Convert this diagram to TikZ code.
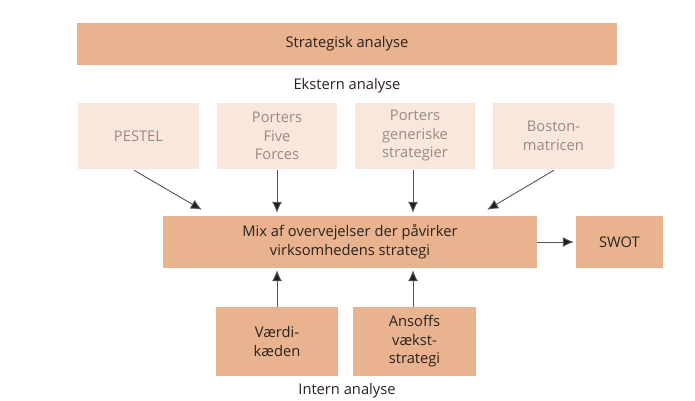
\documentclass[tikz,border=0pt]{standalone}
\usepackage{fontspec}
\setmainfont{Open Sans}
\usetikzlibrary{arrows.meta,calc}
\definecolor{darkfill}{HTML}{E8B38E}
\definecolor{lightfill}{HTML}{FAE7DB}
\definecolor{lighttext}{HTML}{948C88}
\definecolor{darktext}{HTML}{2A2220}
\definecolor{arrowcol}{HTML}{1E1E1E}
\tikzset{
  box/.style={draw=none, inner sep=0pt, align=center, font=\fontsize{14.7}{18.5}\selectfont},
  darkbox/.style={box, fill=darkfill, text=darktext},
  lightbox/.style={box, fill=lightfill, text=lighttext},
  lbl/.style={inner sep=0pt, text=darktext, font=\fontsize{14.7}{18.5}\selectfont},
  arr/.style={draw=arrowcol!75, line width=0.9pt, -{Latex[length=11pt,width=10pt,fill=arrowcol]}}
}
\begin{document}
\begin{tikzpicture}[x=1pt,y=-1pt]
\useasboundingbox (0,0) rectangle (695,400);
% top bar
\node[darkbox, minimum width=540pt, minimum height=42pt] (top) at (347,44) {Strategisk analyse};
\node[lbl] (ekst) at (347,86) {Ekstern analyse};
% light boxes
\node[lightbox, minimum width=121pt, minimum height=66pt] (pestel) at (138.5,136) {PESTEL};
\node[lightbox, minimum width=120pt, minimum height=66pt] (five) at (277,136) {Porters\\Five\\Forces};
\node[lightbox, minimum width=120pt, minimum height=66pt] (gen) at (415,136) {Porters\\generiske\\strategier};
\node[lightbox, minimum width=121pt, minimum height=66pt] (boston) at (553.5,136) {Boston-\\matricen};
% mix
\node[darkbox, minimum width=374pt, minimum height=52pt] (mix) at (350,242) {Mix af overvejelser der påvirker\\virksomhedens strategi};
\node[darkbox, minimum width=87pt, minimum height=52pt] (swot) at (619.5,242) {SWOT};
% bottom
\node[darkbox, minimum width=122pt, minimum height=69pt] (vaerdi) at (277,341.5) {Værdi-\\kæden};
\node[darkbox, minimum width=123pt, minimum height=69pt] (ansoff) at (414.5,341.5) {Ansoffs\\vækst-\\strategi};
\node[lbl] (intern) at (347,391) {Intern analyse};
% arrows
\draw[arr] ($(pestel.south)+(-4.5,1)$) -- ($(mix.north west)+(39,-6)$);
\draw[arr] ($(five.south)+(0,1)$) -- ($(five.south |- mix.north)+(0,-3)$);
\draw[arr] ($(gen.south)+(-2,1)$) -- ($(gen.south |- mix.north)+(-2,-3)$);
\draw[arr] ($(boston.south)+(0.5,1)$) -- ($(mix.north east)+(-50,-6)$);
\draw[arr] (vaerdi.north) -- ($(vaerdi.north |- mix.south)+(0,2)$);
\draw[arr] ($(ansoff.north)+(-1.5,0)$) -- ($(ansoff.north |- mix.south)+(-1.5,2)$);
\draw[arr] (mix.east) -- ($(swot.west)+(-2,0)$);
\end{tikzpicture}
\end{document}
